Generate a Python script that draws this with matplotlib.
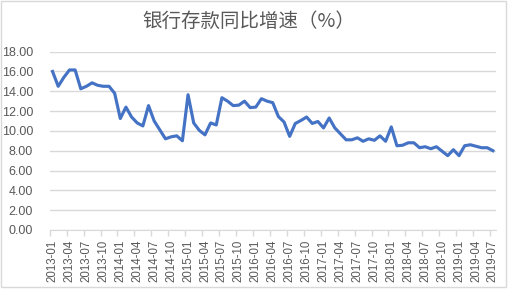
import matplotlib
matplotlib.use("Agg")
import matplotlib.pyplot as plt
import pandas as pd
import numpy as np
from matplotlib.patches import Rectangle

# monthly labels 2013-01 .. 2019-07
months = pd.period_range("2013-01", "2019-07", freq="M").strftime("%Y-%m").tolist()

# bank deposits yoy growth (%)
growth = [
    16.0, 14.5, 15.4, 16.15, 16.15, 14.25, 14.5, 14.85, 14.6, 14.5, 14.5, 13.8,
    11.25, 12.4, 11.4, 10.8, 10.5, 12.55, 11.0, 10.1, 9.2, 9.4, 9.5, 9.0,
    13.65, 10.8, 10.05, 9.6, 10.8, 10.6, 13.35, 13.0, 12.55, 12.6, 13.0, 12.35,
    12.4, 13.25, 13.0, 12.85, 11.45, 10.9, 9.45, 10.75, 11.05, 11.4, 10.75, 10.95,
    10.3, 11.3, 10.3, 9.7, 9.1, 9.1, 9.3, 8.95, 9.2, 9.05, 9.5, 8.95,
    10.4, 8.5, 8.55, 8.8, 8.8, 8.3, 8.4, 8.2, 8.4, 7.95, 7.5, 8.1,
    7.5, 8.5, 8.6, 8.45, 8.3, 8.3, 8.0,
]

title = "银行存款同比增速（%）"
grey_txt = "#595959"
grid_col = "#D9D9D9"
line_col = "#4472C4"

plt.rcParams['font.family'] = ['Liberation Sans', 'Noto Sans CJK SC', 'DejaVu Sans']

fig = plt.figure(figsize=(5.1, 2.9), dpi=100)
ax = fig.add_axes([0.0975, 0.207, 0.8745, 0.615])

x = np.arange(len(growth))
ax.plot(x, growth, color=line_col, lw=2.25, solid_joinstyle="round")

ax.set_xlim(-0.5, len(growth) - 0.5)
ax.set_ylim(0, 18)
ax.set_yticks(np.arange(0, 19, 2))
ax.set_yticklabels([f"{v:.2f}" for v in np.arange(0, 19, 2)])
ax.yaxis.grid(True, color=grid_col, lw=1)
ax.set_axisbelow(True)

lab_pos = x[::3]
ax.set_xticks(lab_pos)
ax.set_xticklabels([months[i] for i in lab_pos], rotation=90)
ax.set_xticks(lab_pos - 0.5, minor=True)
ax.tick_params(axis="x", which="major", length=0, pad=7, labelsize=8.3, colors=grey_txt)
ax.tick_params(axis="x", which="minor", length=4, color=grid_col, width=1)
ax.tick_params(axis="y", length=0, pad=12, labelsize=9, colors=grey_txt)

for s in ["top", "right", "left"]:
    ax.spines[s].set_visible(False)
ax.spines["bottom"].set_color(grid_col)

fig.text(0.487, 0.925, title, ha="center", va="center", fontsize=14,
         color=grey_txt, fontweight="light",
         family=['Noto Sans CJK SC', 'DejaVu Sans'])

# outer chart border
fig.patches.append(Rectangle((0.002, 0.01), 0.99, 0.985, transform=fig.transFigure,
                             fill=False, edgecolor=grid_col, lw=1))

fig.savefig("out.png", dpi=100)
